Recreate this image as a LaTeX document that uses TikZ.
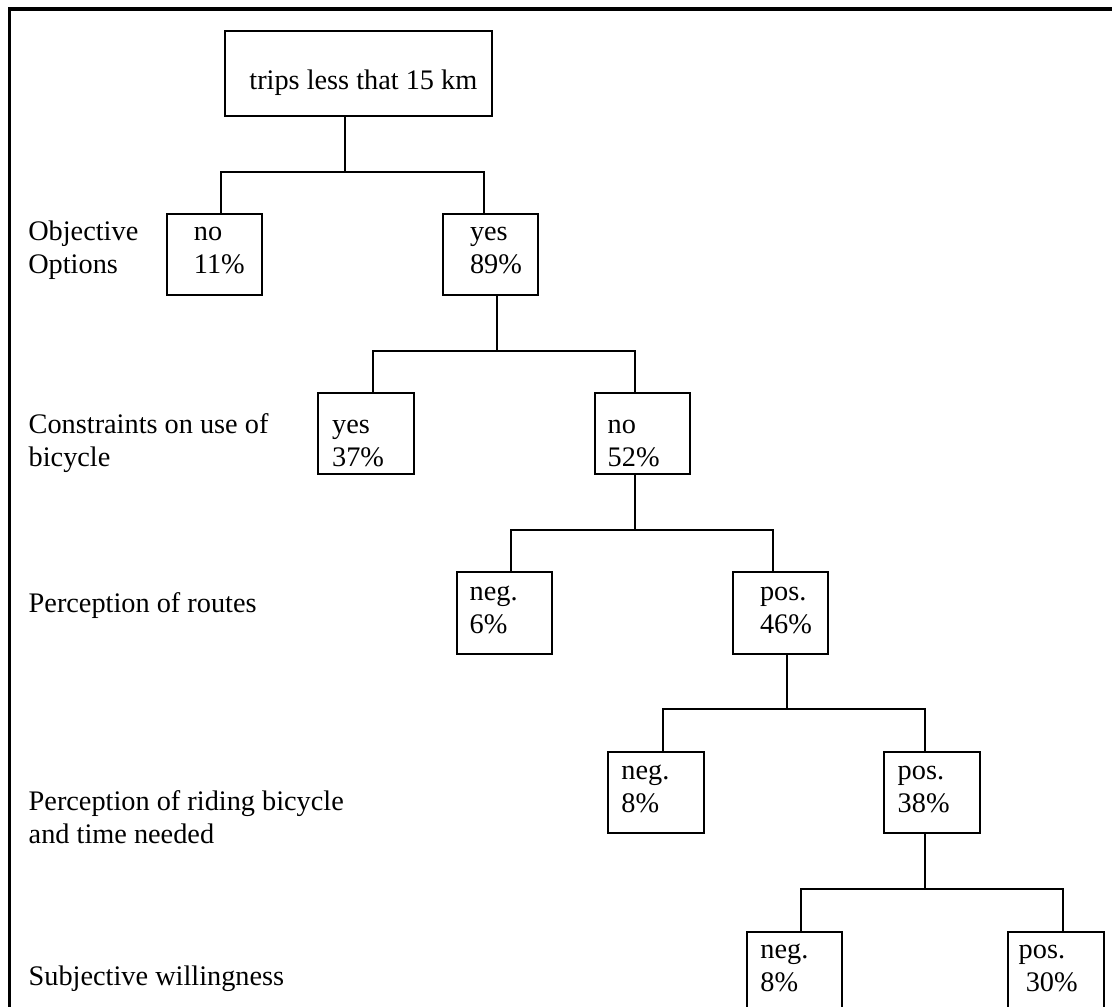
\documentclass[tikz,border=0pt]{standalone}
\usepackage{fontspec}
\setmainfont{Liberation Serif}
\usetikzlibrary{positioning,calc}
\tikzset{
  box/.style={draw, line width=1pt, inner sep=0pt, minimum width=48pt, minimum height=40.8pt},
  txt/.style={anchor=base west, inner sep=0pt, font=\fontsize{14.15pt}{16.5pt}\selectfont},
  link/.style={line width=1pt},
}
\newcommand{\twoline}[2]{\begin{tabular}[t]{@{}l@{}}#1\\#2\end{tabular}}

\begin{document}
\begin{tikzpicture}[x=0.5pt, y=-0.5pt]
  \useasboundingbox (0,0) rectangle (1112,1006);
  \clip (0,0) rectangle (1112,1006);
  \draw[line width=1.6pt] (1120,9) -- (9.5,9) -- (9.5,1020);

  % root
  \node[box, minimum width=133.4pt, minimum height=42.35pt] (root) at (358.4,73.35) {};
  \node[txt] (root-t) at (249,89.3) {trips less that 15 km};

  % objective options
  \node[box, minimum width=47.6pt] (optNo) at (214.4,254.5) {};
  \node[box, minimum width=47.6pt] (optYes) at (490.55,254.5) {};
  \node[txt] (optNo-t) at (193.5,240.7) {\twoline{no}{11\%}};
  \node[txt] (optYes-t) at (469.6,240.7) {\twoline{yes}{89\%}};
  \node[txt] (optLbl) at (27.9,240.7) {\twoline{Objective}{Options}};
  \coordinate (b1l) at (221,171.7);
  \coordinate (b1m) at (345.4,171.7);
  \coordinate (b1r) at (484,171.7);
  \draw[link] (root.south -| b1m) -- (b1m);
  \draw[link] (b1l |- optNo.north) -- (b1l) -- (b1r) -- (b1r |- optYes.north);

  % constraints
  \node[box, minimum width=47.85pt, minimum height=40.65pt] (conYes) at (366.15,433.65) {};
  \node[box, minimum width=47.5pt, minimum height=40.65pt] (conNo) at (642.5,433.65) {};
  \node[txt] (conYes-t) at (331.7,433.3) {\twoline{yes}{37\%}};
  \node[txt] (conNo-t) at (607.3,433.3) {\twoline{no}{52\%}};
  \node[txt] (conLbl) at (28.3,433.3) {\twoline{Constraints on use of}{bicycle}};
  \coordinate (b2l) at (372.7,350.7);
  \coordinate (b2m) at (496.5,350.7);
  \coordinate (b2r) at (635.3,350.7);
  \draw[link] (optYes.south -| b2m) -- (b2m);
  \draw[link] (b2l |- conYes.north) -- (b2l) -- (b2r) -- (b2r |- conNo.north);

  % routes
  \node[box, minimum width=47.8pt, minimum height=40.85pt] (rouNeg) at (504.5,613.15) {};
  \node[box, minimum width=47.8pt, minimum height=40.85pt] (rouPos) at (780.5,613.15) {};
  \node[txt] (rouNeg-t) at (469.3,600.5) {\twoline{neg.}{6\%}};
  \node[txt] (rouPos-t) at (759.6,600.5) {\twoline{pos.}{46\%}};
  \node[txt] (rouLbl) at (28.3,612) {Perception of routes};
  \coordinate (b3l) at (510.7,530);
  \coordinate (b3m) at (635.3,530);
  \coordinate (b3r) at (773,530);
  \draw[link] (conNo.south -| b3m) -- (b3m);
  \draw[link] (b3l |- rouNeg.north) -- (b3l) -- (b3r) -- (b3r |- rouPos.north);

  % riding bicycle
  \node[box, minimum width=48.1pt, minimum height=40.35pt] (ridNeg) at (656.3,792.35) {};
  \node[box, minimum width=48.05pt, minimum height=40.35pt] (ridPos) at (932.35,792.35) {};
  \node[txt] (ridNeg-t) at (621,779) {\twoline{neg.}{8\%}};
  \node[txt] (ridPos-t) at (897.3,779) {\twoline{pos.}{38\%}};
  \node[txt] (ridLbl) at (28.3,810) {\twoline{Perception of riding bicycle}{and time needed}};
  \coordinate (b4l) at (662.5,709.3);
  \coordinate (b4m) at (787.3,709.3);
  \coordinate (b4r) at (925,709.3);
  \draw[link] (rouPos.south -| b4m) -- (b4m);
  \draw[link] (b4l |- ridNeg.north) -- (b4l) -- (b4r) -- (b4r |- ridPos.north);

  % willingness
  \node[box, minimum width=47.9pt, minimum height=40.5pt] (wilNeg) at (794.4,972.2) {};
  \node[box, minimum width=48pt, minimum height=40.5pt] (wilPos) at (1056.3,972.2) {};
  \node[txt] (wilNeg-t) at (760,958) {\twoline{neg.}{8\%}};
  \node[txt] (wilPos-t) at (1018.3,958) {\twoline{pos.}{\ 30\%}};
  \node[txt] (wilLbl) at (28.3,985) {Subjective willingness};
  \coordinate (b5l) at (800.5,888.5);
  \coordinate (b5m) at (925,888.5);
  \coordinate (b5r) at (1063.3,888.5);
  \draw[link] (ridPos.south -| b5m) -- (b5m);
  \draw[link] (b5l |- wilNeg.north) -- (b5l) -- (b5r) -- (b5r |- wilPos.north);
\end{tikzpicture}
\end{document}
